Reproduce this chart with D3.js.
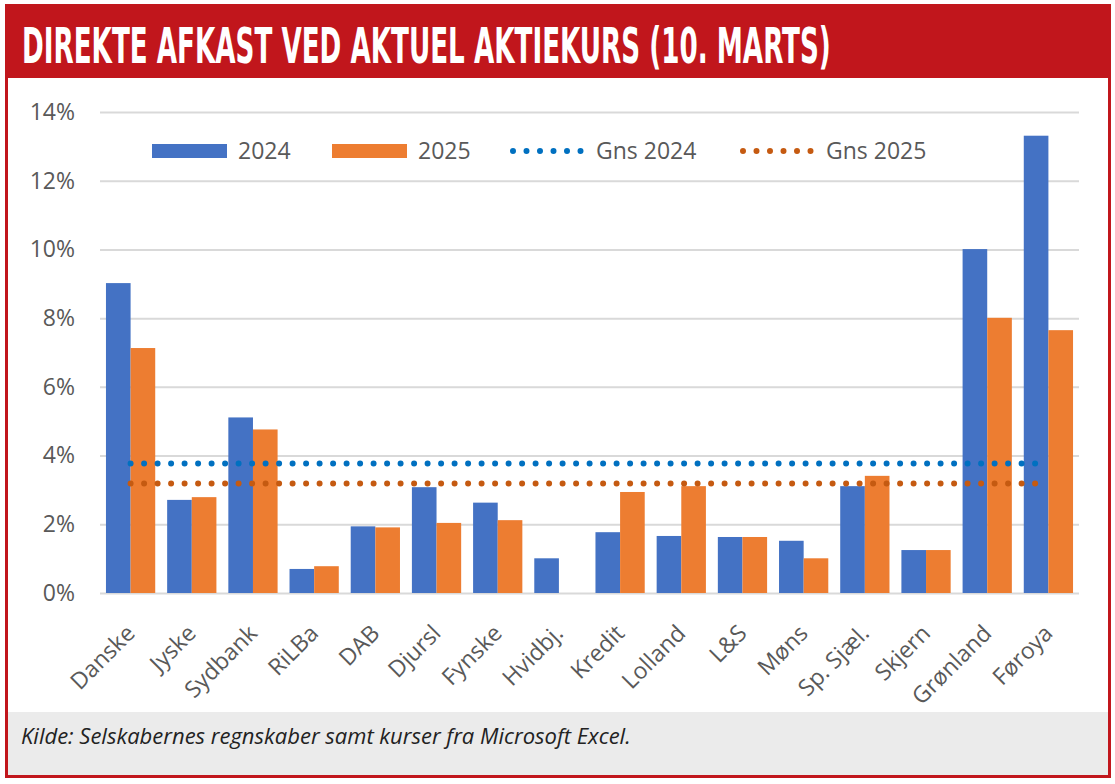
<!DOCTYPE html>
<html>
<head>
<meta charset="utf-8">
<script src="https://cdn.jsdelivr.net/npm/d3@7"></script>
<style>
    body { margin: 0; background: #fff; }
</style>
</head>
<body>
<div id="chart"></div>
<script>
const banks = ["Danske", "Jyske", "Sydbank", "RiLBa", "DAB", "Djursl", "Fynske", "Hvidbj.",
    "Kredit", "Lolland", "L&S", "Møns", "Sp. Sjæl.", "Skjern", "Grønland", "Føroya"];
const yield2024 = [9.02, 2.71, 5.11, 0.70, 1.94, 3.08, 2.63, 1.01, 1.77, 1.66, 1.63, 1.52, 3.11, 1.25, 10.01, 13.31];
const yield2025 = [7.13, 2.79, 4.76, 0.78, 1.91, 2.04, 2.12, null, 2.94, 3.11, 1.63, 1.01, 3.41, 1.25, 8.01, 7.65];
const avg2024 = 3.77;
const avg2025 = 3.19;
const yTicks = [0, 2, 4, 6, 8, 10, 12, 14];
const seriesNames = ["2024", "2025", "Gns 2024", "Gns 2025"];

const W = 1115, H = 784;
const red = "#C1161C";
const blue = "#4472C4", orange = "#ED7D31";
const dotBlue = "#0070C0", dotOrange = "#C55A11";

const svg = d3.select("#chart")
    .append("svg")
    .attr("width", W)
    .attr("height", H);

// frame + title band
svg.append("rect")
    .attr("x", 6.5).attr("y", 5.5)
    .attr("width", 1103).attr("height", 771)
    .attr("fill", "#fff")
    .attr("stroke", red)
    .attr("stroke-width", 3);

svg.append("rect")
    .attr("x", 5).attr("y", 5)
    .attr("width", 1106).attr("height", 73)
    .attr("fill", red);

// condensed title: squeeze the narrow font to the reference width
const title = svg.append("text")
    .attr("x", 0)
    .attr("y", 0)
    .style("font-family", "'Liberation Sans Narrow', 'DejaVu Sans Condensed', sans-serif")
    .style("font-weight", "bold")
    .style("font-size", "49px")
    .style("fill", "#fff")
    .text("DIREKTE AFKAST VED AKTUEL AKTIEKURS (10. MARTS)");
const titleW = title.node().getComputedTextLength();
title.attr("transform", `translate(22,63) scale(${809 / titleW},1)`);

// footer
svg.append("rect")
    .attr("x", 8).attr("y", 712)
    .attr("width", 1100).attr("height", 63)
    .attr("fill", "#EBEBEB");

svg.append("text")
    .attr("x", 21)
    .attr("y", 744)
    .style("font-family", "'Open Sans', sans-serif")
    .style("font-style", "italic")
    .style("font-size", "22px")
    .style("fill", "#222")
    .text("Kilde: Selskabernes regnskaber samt kurser fra Microsoft Excel.");

// plot
const x0 = d3.scaleBand()
    .domain(banks)
    .range([100, 1079])
    .paddingInner(0.195)
    .paddingOuter(0.0975);

const x1 = d3.scaleBand()
    .domain(["2024", "2025"])
    .range([0, x0.bandwidth()]);

const y = d3.scaleLinear()
    .domain([0, 14])
    .range([593, 112]);

const yAxis = svg.append("g")
    .attr("transform", "translate(100,0)")
    .call(d3.axisLeft(y)
        .tickValues(yTicks)
        .tickSize(-979)
        .tickPadding(25)
        .tickFormat(d => d + "%"));

yAxis.select(".domain").remove();
yAxis.selectAll("line")
    .attr("stroke", "#D9D9D9")
    .attr("stroke-width", 2);
yAxis.selectAll("text")
    .style("font-family", "'Open Sans', sans-serif")
    .style("font-size", "23px")
    .style("fill", "#595959");

const rows = banks.map((b, i) => ({ bank: b, v24: yield2024[i], v25: yield2025[i] }));

const groups = svg.append("g")
    .selectAll("g")
    .data(rows)
    .join("g")
    .attr("transform", d => `translate(${x0(d.bank)},0)`);

groups.append("rect")
    .attr("x", x1("2024"))
    .attr("y", d => y(d.v24))
    .attr("width", x1.bandwidth())
    .attr("height", d => y(0) - y(d.v24))
    .attr("fill", blue);

groups.filter(d => d.v25 !== null)
    .append("rect")
    .attr("x", x1("2025"))
    .attr("y", d => y(d.v25))
    .attr("width", x1.bandwidth())
    .attr("height", d => y(0) - y(d.v25))
    .attr("fill", orange);

// average lines (dotted, centre of first to centre of last group)
const xMid = b => x0(b) + x0.bandwidth() / 2;

[[avg2024, dotBlue], [avg2025, dotOrange]].forEach(([v, c]) => {
    svg.append("path")
        .attr("d", d3.line()([[xMid(banks[0]), y(v)], [xMid(banks[banks.length - 1]) - 8, y(v)]]))
        .attr("stroke", c)
        .attr("stroke-width", 6)
        .attr("stroke-linecap", "round")
        .attr("stroke-dasharray", "0 13.5")
        .attr("fill", "none");
});

// x labels
svg.append("g")
    .selectAll("text")
    .data(banks)
    .join("text")
    .attr("transform", d => `translate(${xMid(d)},${629}) rotate(-45)`)
    .attr("text-anchor", "end")
    .attr("dy", "0.35em")
    .style("font-family", "'Open Sans', sans-serif")
    .style("font-size", "23px")
    .style("fill", "#595959")
    .text(d => d);

// legend
const legend = svg.append("g").attr("transform", "translate(0,151)");
const legendItems = [
    { name: seriesNames[0], x: 152, type: "bar", color: blue },
    { name: seriesNames[1], x: 332, type: "bar", color: orange },
    { name: seriesNames[2], x: 510, type: "dot", color: dotBlue },
    { name: seriesNames[3], x: 740, type: "dot", color: dotOrange }
];

legendItems.forEach(it => {
    if (it.type === "bar") {
        legend.append("rect")
            .attr("x", it.x).attr("y", -7)
            .attr("width", 75).attr("height", 14)
            .attr("fill", it.color);
    } else {
        legend.append("path")
            .attr("d", `M${it.x + 3},0H${it.x + 74}`)
            .attr("stroke", it.color)
            .attr("stroke-width", 6)
            .attr("stroke-linecap", "round")
            .attr("stroke-dasharray", "0 13.5");
    }
    legend.append("text")
        .attr("x", it.x + 86)
        .attr("y", 0)
        .attr("dy", "0.35em")
        .style("font-family", "'Open Sans', sans-serif")
        .style("font-size", "23px")
        .style("fill", "#595959")
        .text(it.name);
});
</script>
</body>
</html>
